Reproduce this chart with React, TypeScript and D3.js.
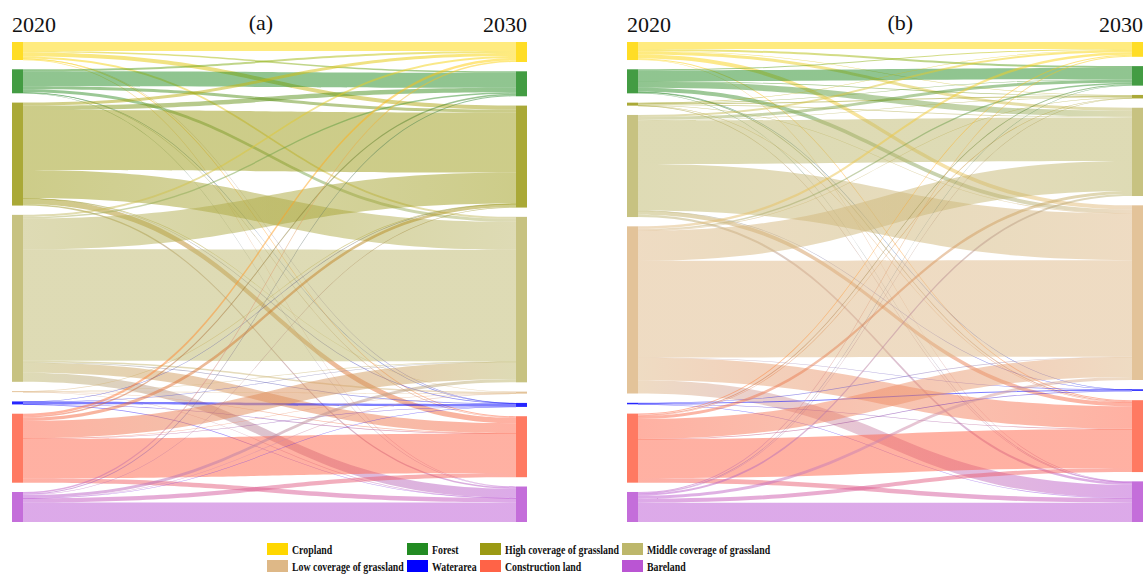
import React from 'react';
import * as d3 from 'd3';

// ---------- DATA ----------
const CATEGORIES = [
  'Cropland',
  'Forest',
  'High coverage of grassland',
  'Middle coverage of grassland',
  'Low coverage of grassland',
  'Waterarea',
  'Construction land',
  'Bareland',
];
const COLORS = ['#FFD700', '#228B22', '#9B9A14', '#BDB76B', '#DEB887', '#0000FF', '#FF6347', '#BA55D3'];
const YEARS = ['2020', '2030'];
const PANELS = ['(a)', '(b)'];

// rows = 2020 class, columns = 2030 class (same order as CATEGORIES)
const flowsA = [
  [9, 1.5, 4, 2, 0, 0.1, 1, 0.4],
  [2, 15, 3, 3, 0, 0.1, 0.5, 0.4],
  [3, 4.5, 60, 28, 0.2, 0.3, 5.5, 1.5],
  [2, 1.5, 31, 111.5, 1.5, 0.5, 10, 9],
  [0, 0, 0.2, 0.3, 0.1, 0, 0.3, 0.1],
  [0, 0, 0.1, 0.2, 0, 2.5, 0.1, 0.1],
  [2.5, 1.5, 3.2, 17.5, 0.1, 0.3, 39.4, 4.5],
  [1.5, 1, 0.5, 3, 0.1, 0.2, 4.2, 19.5],
];
const flowsB = [
  [7, 2, 0.5, 3, 4, 0, 1, 0.5],
  [1, 11, 0.5, 6, 4, 0.1, 1, 0.4],
  [0.3, 0.5, 1, 0.7, 0.3, 0, 0.1, 0.1],
  [2, 3, 0.5, 43.5, 46.5, 0.1, 4, 2.4],
  [2.5, 1.5, 0.5, 30, 96.5, 0.3, 22.5, 13.2],
  [0, 0, 0, 0, 0.2, 1, 0.2, 0.1],
  [1, 1, 0.3, 3, 20, 0.1, 39, 4.6],
  [1, 0.5, 0.2, 2, 3, 0, 4, 19.3],
];

const FONT = '"Liberation Serif", "Times New Roman", serif';

type NodeBox = { y0: number; y1: number };

function computeLayout(flows: number[][], top: number, bottom: number, gap: number) {
  const n = flows.length;
  const outSum = flows.map((r) => d3.sum(r));
  const inSum = d3.range(n).map((j) => d3.sum(flows, (r) => r[j]));
  const total = d3.sum(outSum);
  const y = d3.scaleLinear().domain([0, total]).range([0, bottom - top - gap * (n - 1)]);
  const stack = (sums: number[]): NodeBox[] => {
    let acc = top;
    return sums.map((v) => {
      const y0 = acc;
      const y1 = acc + y(v);
      acc = y1 + gap;
      return { y0, y1 };
    });
  };
  const left = stack(outSum);
  const right = stack(inSum);
  const sOff = left.map((d) => d.y0);
  const tOff = right.map((d) => d.y0);
  const links: { s: number; t: number; sy0: number; sy1: number; ty0: number; ty1: number }[] = [];
  for (let i = 0; i < n; i++) {
    for (let j = 0; j < n; j++) {
      const v = flows[i][j];
      if (!v) continue;
      const w = y(v);
      links.push({ s: i, t: j, sy0: sOff[i], sy1: sOff[i] + w, ty0: tOff[j], ty1: tOff[j] + w });
      sOff[i] += w;
      tOff[j] += w;
    }
  }
  return { left, right, links };
}

function linkPath(x0: number, x1: number, l: { sy0: number; sy1: number; ty0: number; ty1: number }) {
  const xm = (x0 + x1) / 2;
  let sy1 = l.sy1;
  let ty1 = l.ty1;
  if (sy1 - l.sy0 < 0.6) { sy1 = l.sy0 + 0.6; ty1 = l.ty0 + 0.6; }
  const p = d3.path();
  p.moveTo(x0, l.sy0);
  p.bezierCurveTo(xm, l.sy0, xm, l.ty0, x1, l.ty0);
  p.lineTo(x1, ty1);
  p.bezierCurveTo(xm, ty1, xm, sy1, x0, sy1);
  p.closePath();
  return p.toString();
}

function Sankey({ id, flows, xLeft, xRight, nodeW, panel, panelPos }: any) {
  const top = 42;
  const bottom = 522;
  const gap = 9.3;
  const { left, right, links } = computeLayout(flows, top, bottom, gap);
  const x = d3.scaleLinear().domain([0, 1]).range([xLeft, xRight]);
  const lx0 = x(0) + nodeW;
  const lx1 = x(1);
  return (
    <g>
      <defs>
        {links.map((l, k) => (
          <linearGradient key={k} id={`${id}-g${k}`} gradientUnits="userSpaceOnUse" x1={lx0} x2={lx1} y1={0} y2={0}>
            <stop offset="0%" stopColor={COLORS[l.s]} />
            <stop offset="100%" stopColor={COLORS[l.t]} />
          </linearGradient>
        ))}
      </defs>
      <g>
        {links.map((l, k) => (
          <path key={k} d={linkPath(lx0, lx1, l)} fill={`url(#${id}-g${k})`} fillOpacity={0.5} />
        ))}
      </g>
      <g>
        {left.map((d, i) => (
          <rect key={'l' + i} x={x(0)} y={d.y0} width={nodeW} height={Math.max(d.y1 - d.y0, 1)} fill={COLORS[i]} fillOpacity={0.85} />
        ))}
        {right.map((d, i) => (
          <rect key={'r' + i} x={x(1)} y={d.y0} width={nodeW} height={Math.max(d.y1 - d.y0, 1)} fill={COLORS[i]} fillOpacity={0.85} />
        ))}
      </g>
      <text x={x(0)} y={32} fontFamily={FONT} fontSize={22} fill="#111">{YEARS[0]}</text>
      <text x={x(1) + nodeW} y={32} fontFamily={FONT} fontSize={22} fill="#111" textAnchor="end">{YEARS[1]}</text>
      <text x={x(panelPos)} y={30} fontFamily={FONT} fontSize={22} fill="#111" textAnchor="middle">{panel}</text>
    </g>
  );
}

function Legend() {
  const colX = [267, 407, 480, 622];
  const rowY = [543, 560];
  return (
    <g>
      {CATEGORIES.map((c, i) => {
        const cx = colX[i % 4];
        const cy = rowY[Math.floor(i / 4)];
        return (
          <g key={c}>
            <rect x={cx} y={cy} width={21} height={12} fill={COLORS[i]} />
            <text
              transform={`translate(${cx + 25},${cy + 10.5}) scale(0.82,1)`}
              fontFamily={FONT}
              fontWeight="bold"
              fontSize={12}
              fill="#111"
            >
              {c}
            </text>
          </g>
        );
      })}
    </g>
  );
}

export default function App() {
  return (
    <svg
      width={1146}
      height={576}
      viewBox="0 0 1146 576"
      style={{ position: 'absolute', left: 0, top: 0, background: '#fff' }}
    >
      <rect x={0} y={0} width={1146} height={576} fill="#fff" />
      <Sankey id="A" flows={flowsA} xLeft={12} xRight={516} nodeW={11} panel={PANELS[0]} panelPos={0.494} />
      <Sankey id="B" flows={flowsB} xLeft={627} xRight={1132} nodeW={11} panel={PANELS[1]} panelPos={0.541} />
      <Legend />
    </svg>
  );
}
